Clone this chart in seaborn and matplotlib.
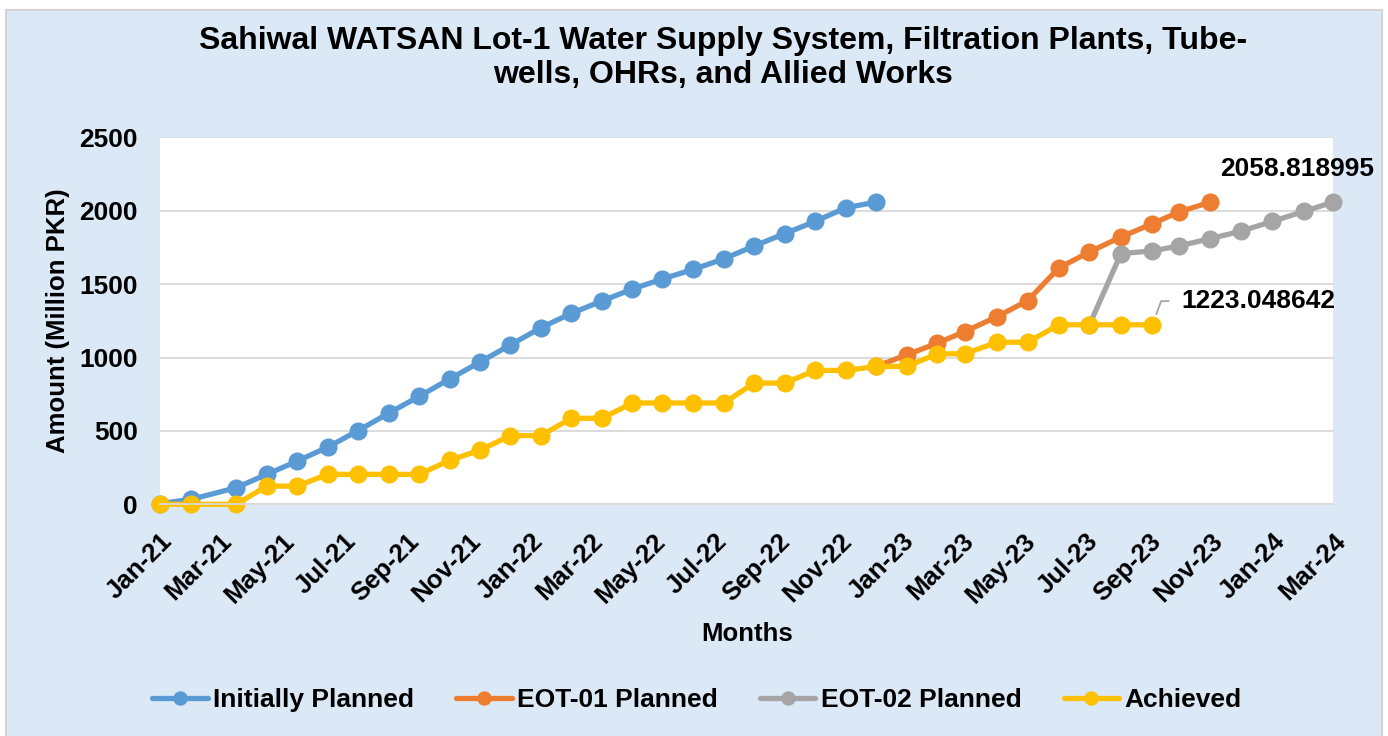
import matplotlib
matplotlib.use('Agg')
import matplotlib.pyplot as plt
import matplotlib.dates as mdates
from matplotlib.patches import Rectangle
import pandas as pd
import seaborn as sns

# reporting dates
dates = ['2021-01-01', '2021-02-01', '2021-03-17', '2021-04-16', '2021-05-16',
         '2021-06-15', '2021-07-15', '2021-08-14', '2021-09-13', '2021-10-13',
         '2021-11-12', '2021-12-12', '2022-01-11', '2022-02-10', '2022-03-12',
         '2022-04-11', '2022-05-10', '2022-06-10', '2022-07-10', '2022-08-09',
         '2022-09-08', '2022-10-08', '2022-11-07', '2022-12-07', '2023-01-06',
         '2023-02-05', '2023-03-04', '2023-04-05', '2023-05-05', '2023-06-05',
         '2023-07-05', '2023-08-05', '2023-09-05', '2023-10-01', '2023-11-01',
         '2023-12-01', '2024-01-01', '2024-02-01', '2024-03-01']

initially_planned = [5, 34, 113, 204, 294, 389, 502, 620, 735, 853, 969, 1086,
                     1203, 1301, 1385, 1466, 1534, 1600, 1672, 1760, 1844, 1927,
                     2020, 2058.818995]
eot01_planned = [939, 1018, 1097, 1176, 1278, 1387, 1611, 1719, 1821, 1912, 1991,
                 2058.818995]
eot02_planned = [1223.048642, 1708, 1726, 1760, 1810, 1860, 1927, 1995, 2058.818995]
achieved = [0, 0, 0, 124, 124, 204, 204, 204, 204, 299, 369, 468, 468, 586, 586,
            690, 690, 690, 690, 826, 826, 912, 912, 939, 939, 1025, 1025, 1104,
            1104, 1223.048642, 1223.048642, 1223.048642, 1223.048642]

names = ['Initially Planned', 'EOT-01 Planned', 'EOT-02 Planned', 'Achieved']
starts = [0, 23, 30, 0]  # index into dates where each series begins
values = [initially_planned, eot01_planned, eot02_planned, achieved]
colors = ['#5B9BD5', '#ED7D31', '#A5A5A5', '#FFC000']

rows = []
for name, start, vals in zip(names, starts, values):
    for d, v in zip(dates[start:], vals):
        rows.append((pd.Timestamp(d), v, name))
df = pd.DataFrame(rows, columns=['date', 'amount', 'series'])

sns.set_style('white')
plt.rcParams['font.family'] = ['Liberation Sans', 'DejaVu Sans']
plt.rcParams['font.weight'] = 'bold'
for key in ['text.color', 'axes.labelcolor', 'xtick.labelcolor', 'ytick.labelcolor']:
    plt.rcParams[key] = 'black'

fig = plt.figure(figsize=(13.88, 7.36), dpi=100, facecolor='white')
# light blue chart area with thin grey border
fig.patches.append(Rectangle((6 / 1388, -0.01), 1376 / 1388, 726 / 736 + 0.01,
                             transform=fig.transFigure, facecolor='#dbe8f6',
                             edgecolor='#d4d4d4', linewidth=1.5, zorder=-5))

ax = fig.add_axes([160 / 1388, (736 - 504.3) / 736, 1173.3 / 1388, 367 / 736])
ax.set_facecolor('white')

sns.lineplot(data=df, x='date', y='amount', hue='series', hue_order=names,
             palette=colors, marker='o', markersize=13, markeredgewidth=0,
             linewidth=3.8, estimator=None, legend=False, ax=ax, clip_on=False)

ax.set_ylim(0, 2500)
ax.set_yticks(range(0, 2501, 500))
ax.set_xlim(mdates.date2num(pd.Timestamp(dates[0])), mdates.date2num(pd.Timestamp(dates[-1])))
ax.xaxis.set_major_locator(mdates.MonthLocator(bymonth=[1, 3, 5, 7, 9, 11]))
ax.xaxis.set_major_formatter(mdates.DateFormatter('%b-%y'))

ax.grid(axis='y', color='#d9d9d9', linewidth=1.3)
ax.set_axisbelow(True)
for s in ['left', 'right', 'top']:
    ax.spines[s].set_visible(False)
ax.spines['bottom'].set_color('#d9d9d9')
ax.spines['bottom'].set_linewidth(1.3)

ax.tick_params(axis='y', length=0, pad=16, labelsize=19)
ax.tick_params(axis='x', length=5, width=1.2, color='#d9d9d9', pad=13, labelsize=18.5)
for lbl in ax.get_xticklabels():
    lbl.set_rotation(45)
    lbl.set_ha('right')
    lbl.set_va('top')
    lbl.set_rotation_mode('anchor')
    lbl.set_fontweight('bold')
for lbl in ax.get_yticklabels():
    lbl.set_fontweight('bold')

ax.set_xlabel('Months', fontsize=18.5, fontweight='bold', labelpad=10)
ax.set_ylabel('Amount (Million PKR)', fontsize=18.5, fontweight='bold', labelpad=7)

fig.text(723 / 1388, (736 - 58) / 736,
         'Sahiwal WATSAN Lot-1 Water Supply System, Filtration Plants, Tube-\nwells, OHRs, and Allied Works',
         ha='center', va='center', fontsize=23, fontweight='bold', linespacing=1.2)

# data labels
ax.annotate(f'{eot02_planned[-1]:.6f}',
            xy=(mdates.date2num(pd.Timestamp(dates[-1])), eot02_planned[-1]),
            xytext=(-26, 24), textcoords='offset points', ha='center', va='center',
            fontsize=19, fontweight='bold', annotation_clip=False)
ax.annotate(f'{achieved[-1]:.6f}',
            xy=(mdates.date2num(pd.Timestamp(dates[len(achieved) - 1])), achieved[-1]),
            xytext=(21, 17), textcoords='offset points', ha='left', va='center',
            fontsize=19, fontweight='bold', annotation_clip=False,
            arrowprops=dict(arrowstyle='-', color='#a5a5a5', lw=1.3,
                            connectionstyle='angle,angleA=0,angleB=70',
                            shrinkA=7, shrinkB=8, relpos=(0, 0.5)))

handles = ax.get_lines()[:4]
fig.legend(handles, names, loc='center', bbox_to_anchor=(697 / 1388, 36 / 736),
           ncol=4, frameon=False, prop={'size': 19, 'weight': 'bold'},
           handlelength=2.1, handletextpad=0.2, columnspacing=1.6, markerscale=0.8)

fig.savefig('out.png', dpi=100, facecolor=fig.get_facecolor())
